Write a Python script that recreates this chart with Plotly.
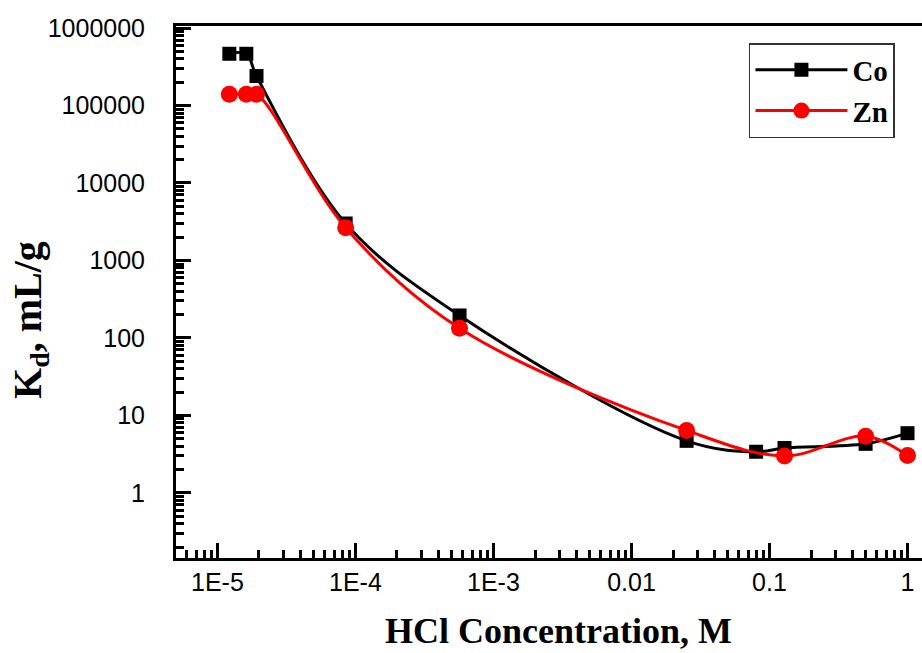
import plotly.graph_objects as go

# HCl concentration (M)
co_x = [1.22e-5, 1.62e-5, 1.92e-5, 8.5e-5, 5.68e-4, 0.0251, 0.080, 0.1285, 0.497, 1.0]
co_y = [465000, 465000, 240000, 3000, 195, 4.7, 3.4, 3.8, 4.3, 5.9]

zn_x = [1.22e-5, 1.62e-5, 1.92e-5, 8.5e-5, 5.68e-4, 0.0251, 0.1285, 0.497, 1.0]
zn_y = [140000, 140000, 140000, 2650, 133, 6.4, 3.0, 5.4, 3.03]

x_tickvals = [1e-5, 1e-4, 1e-3, 1e-2, 1e-1, 1]
x_ticktext = ["1E-5", "1E-4", "1E-3", "0.01", "0.1", "1"]
y_tickvals = [1, 10, 100, 1000, 10000, 100000, 1000000]
y_ticktext = ["1", "10", "100", "1000", "10000", "100000", "1000000"]

x_title = "<b>HCl Concentration, M</b>"
y_title = "<b>K<sub>d</sub>, mL/g</b>"

def minor_vals(lo_exp, hi_exp):
    vals = []
    for e in range(lo_exp, hi_exp + 1):
        for m in range(2, 10):
            vals.append(m * 10 ** e)
    return vals

fig = go.Figure()
fig.add_trace(go.Scatter(
    x=co_x, y=co_y, name="Co", mode="lines+markers",
    line=dict(color="black", width=3, shape="spline", smoothing=1.0),
    marker=dict(symbol="square", size=14, color="black"),
))
fig.add_trace(go.Scatter(
    x=zn_x, y=zn_y, name="Zn", mode="lines+markers",
    line=dict(color="#ff0000", width=3, shape="spline", smoothing=1.0),
    marker=dict(symbol="circle", size=17, color="#ff0000"),
))

serif = "Liberation Serif, Times New Roman, serif"
sans = "Liberation Sans, Arial, sans-serif"

fig.update_layout(
    width=922, height=653,
    margin=dict(l=176, r=0, t=26, b=95),
    paper_bgcolor="white", plot_bgcolor="white",
    showlegend=True,
    legend=dict(
        x=0.768, y=0.968, xanchor="left", yanchor="top",
        bordercolor="#333333", borderwidth=1.5, bgcolor="white",
        font=dict(family=serif, size=29, color="black", weight="bold"),
        tracegroupgap=0, itemwidth=92,
    ),
    xaxis=dict(
        type="log", range=[-5.3, 0.105],
        tickmode="array", tickvals=x_tickvals, ticktext=x_ticktext,
        ticks="inside", ticklen=15, tickwidth=2.5, tickcolor="black",
        showline=True, linewidth=3, linecolor="black", mirror=True,
        showgrid=False, zeroline=False,
        tickfont=dict(family=sans, size=25, color="black"),
        ticklabelstandoff=0,
        minor=dict(tickmode="array", tickvals=minor_vals(-6, 0), ticks="inside",
                   ticklen=8, tickwidth=2.5, tickcolor="black", showgrid=False),
    ),
    yaxis=dict(
        type="log", range=[-0.84, 6.026],
        tickmode="array", tickvals=y_tickvals, ticktext=y_ticktext,
        ticks="inside", ticklen=15, tickwidth=2.5, tickcolor="black",
        showline=True, linewidth=3, linecolor="black", mirror=False,
        showgrid=False, zeroline=False,
        tickfont=dict(family=sans, size=25, color="black"),
        ticklabelstandoff=23,
        minor=dict(tickmode="array", tickvals=minor_vals(-1, 5), ticks="inside",
                   ticklen=8, tickwidth=2.5, tickcolor="black", showgrid=False),
    ),
    annotations=[
        dict(text=x_title, xref="paper", yref="paper", x=0.5134, y=-0.138,
             xanchor="center", yanchor="middle", showarrow=False,
             font=dict(family=serif, size=36, color="black")),
        dict(text=y_title, xref="paper", yref="paper", x=-0.1957, y=0.4474,
             xanchor="center", yanchor="middle", showarrow=False, textangle=-90,
             font=dict(family=serif, size=40, color="black")),
    ],
)

fig.write_html("out.html")
